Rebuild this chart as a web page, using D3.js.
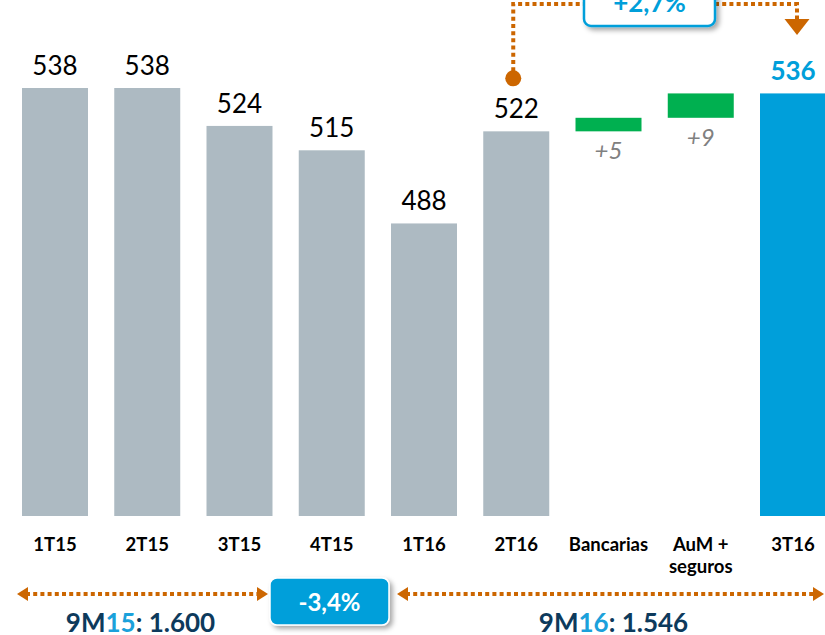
<!DOCTYPE html>
<html>
<head>
<meta charset="utf-8">
<script src="https://cdn.jsdelivr.net/npm/d3@7"></script>
<style>
  html, body { margin: 0; padding: 0; background: #fff; }
  svg { display: block; }
  text { font-family: Lato, "Open Sans", "Liberation Sans", sans-serif; }
</style>
</head>
<body>
<svg id="chart" width="825" height="635"></svg>
<script>
// Quarterly commission income with the bridge from 2T16 to 3T16
const categories = ["1T15", "2T15", "3T15", "4T15", "1T16", "2T16", "Bancarias", "AuM + seguros", "3T16"];
const quarterValues = [538, 538, 524, 515, 488, 522];   // 1T15 .. 2T16
const bridgeDeltas = [5, 9];                             // Bancarias, AuM + seguros
const finalValue = 536;                                  // 3T16
const axisBase = 380;                                    // value at the bars' baseline (truncated axis)

const periods = [
  { prefix: "9M", year: "15", total: "1.600" },
  { prefix: "9M", year: "16", total: "1.546" }
];
const periodChange = "-3,4%";
const quarterChange = "+2,7%";

const colors = {
  grey: "#adbac2",
  green: "#00b050",
  blue: "#009fda",
  orange: "#cc6600",
  navy: "#0d3a5c",
  label: "#808080"
};

// Build bar segments: quarters from the baseline, bridge items floating
const bars = [];
quarterValues.forEach((v, i) => bars.push({ cat: categories[i], y0: axisBase, y1: v, type: "quarter", value: v }));
let running = quarterValues[quarterValues.length - 1];
bridgeDeltas.forEach((d, i) => {
  bars.push({ cat: categories[quarterValues.length + i], y0: running, y1: running + d, type: "delta", value: d });
  running += d;
});
bars.push({ cat: categories[categories.length - 1], y0: axisBase, y1: finalValue, type: "final", value: finalValue });

const svg = d3.select("#chart");

const x = d3.scaleBand().domain(categories).range([22, 826]).paddingInner(0.2846).paddingOuter(0);
const y = d3.scaleLinear().domain([axisBase, 538]).range([516, 88]);

// Drop shadow for the callout boxes
const defs = svg.append("defs");
const f = defs.append("filter").attr("id", "shadow").attr("x", "-20%").attr("y", "-30%").attr("width", "150%").attr("height", "170%");
f.append("feDropShadow").attr("dx", 3).attr("dy", 3).attr("stdDeviation", 2.5).attr("flood-color", "#000").attr("flood-opacity", 0.35);

// Bars
svg.append("g").selectAll("rect").data(bars).join("rect")
  .attr("x", d => x(d.cat))
  .attr("width", x.bandwidth())
  .attr("y", d => y(Math.max(d.y0, d.y1)))
  .attr("height", d => Math.abs(y(d.y0) - y(d.y1)))
  .attr("fill", d => d.type === "quarter" ? colors.grey : d.type === "delta" ? colors.green : colors.blue);

// Value labels (bridge items labelled underneath their bar)
svg.append("g").selectAll("text").data(bars).join("text")
  .attr("x", d => x(d.cat) + x.bandwidth() / 2)
  .attr("y", d => d.type === "delta" ? y(d.y0) + 28 : y(d.y1) - 13)
  .attr("text-anchor", "middle")
  .attr("font-size", d => d.type === "delta" ? 24 : 26)
  .attr("font-style", d => d.type === "delta" ? "italic" : "normal")
  .attr("font-weight", d => d.type === "final" ? "bold" : "normal")
  .attr("fill", d => d.type === "delta" ? colors.label : d.type === "final" ? colors.blue : "#000")
  .text(d => d.type === "delta" ? "+" + d.value : d.value);

// Category axis
const xAxis = svg.append("g")
  .attr("transform", "translate(0,534)")
  .call(d3.axisBottom(x).tickSize(0).tickPadding(0));
xAxis.select(".domain").remove();
xAxis.selectAll("text")
  .attr("font-family", "Lato, 'Open Sans', sans-serif")
  .attr("font-size", 18.5)
  .attr("font-weight", "bold")
  .attr("fill", "#000")
  .attr("dy", 0)
  .attr("y", 17)
  .each(function (d) {
    const t = d3.select(this);
    const parts = d === "AuM + seguros" ? ["AuM +", "seguros"] : [d];
    t.text(null);
    parts.forEach((p, i) => t.append("tspan").attr("x", 0).attr("dy", i === 0 ? 0 : 22).text(p));
  });

// Dotted connector style
const dotted = sel => sel.attr("fill", "none").attr("stroke", colors.orange)
  .attr("stroke-width", 4).attr("stroke-dasharray", "4,3.2");

// Top callout: 2T16 -> 3T16
const cx0 = x("2T16") + x.bandwidth() / 2 - 3;
const cx1 = x("3T16") + x.bandwidth() / 2 + 4;
const topY = 4;
const tBox = { x: 584, y: -12, w: 131, h: 38 };
const callout = svg.append("g");
callout.append("path").call(dotted).attr("d", `M${cx0},${y(522) - 53}V${topY}H${tBox.x}`);
callout.append("path").call(dotted).attr("d", `M${tBox.x + tBox.w},${topY}H${cx1}V${19}`);
callout.append("circle").attr("cx", cx0).attr("cy", y(522) - 53).attr("r", 8).attr("fill", colors.orange);
callout.append("path").attr("d", `M${cx1 - 12.5},19H${cx1 + 12.5}L${cx1},35Z`).attr("fill", colors.orange);
callout.append("rect").attr("x", tBox.x).attr("y", tBox.y).attr("width", tBox.w).attr("height", tBox.h)
  .attr("rx", 7).attr("fill", "#fff").attr("stroke", colors.blue).attr("stroke-width", 2.5)
  .attr("filter", "url(#shadow)");
callout.append("text").attr("x", tBox.x + tBox.w / 2).attr("y", 12).attr("text-anchor", "middle")
  .attr("font-size", 26).attr("font-weight", "bold").attr("fill", colors.blue).text(quarterChange);

// Bottom: nine-month comparison
const arrowY = 594;
const bBox = { x: 270, y: 578, w: 119, h: 47 };
const bottom = svg.append("g");
const leftA = x("1T15") - 5, leftB = bBox.x - 2;
const rightA = bBox.x + bBox.w + 8, rightB = 824;
const head = (tipX, dir) => `M${tipX},${arrowY}L${tipX - dir * 11},${arrowY - 7}V${arrowY + 7}Z`;

bottom.append("path").call(dotted).attr("d", `M${leftA + 9},${arrowY}H${leftB - 9}`);
bottom.append("path").call(dotted).attr("d", `M${rightA + 9},${arrowY}H${rightB - 9}`);
[[leftA, -1], [leftB, 1], [rightA, -1], [rightB, 1]].forEach(([tx, dir]) =>
  bottom.append("path").attr("d", head(tx, dir)).attr("fill", colors.orange));

bottom.append("rect").attr("x", bBox.x).attr("y", bBox.y).attr("width", bBox.w).attr("height", bBox.h)
  .attr("rx", 7).attr("fill", colors.blue).attr("stroke", "#fff").attr("stroke-width", 1.5)
  .attr("filter", "url(#shadow)");
bottom.append("text").attr("x", bBox.x + bBox.w / 2).attr("y", 611).attr("text-anchor", "middle")
  .attr("font-size", 24).attr("font-weight", "bold").attr("fill", "#fff").text(periodChange);

const periodX = [(leftA + leftB) / 2 - 2, (rightA + rightB) / 2 + 3];
periods.forEach((p, i) => {
  const t = bottom.append("text").attr("x", periodX[i]).attr("y", 632).attr("text-anchor", "middle")
    .attr("font-size", 26).attr("font-weight", "bold").attr("fill", colors.navy);
  t.append("tspan").text(p.prefix);
  t.append("tspan").attr("fill", "#1ba1db").text(p.year);
  t.append("tspan").text(": " + p.total);
});
</script>
</body>
</html>
